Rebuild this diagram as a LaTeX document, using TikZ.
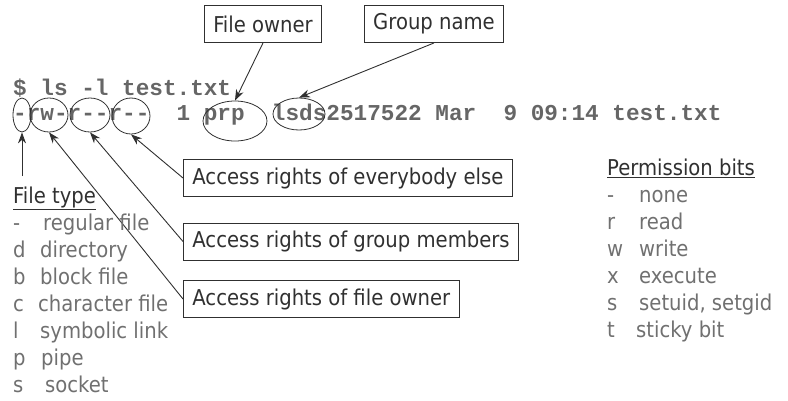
\documentclass[tikz,border=0pt]{standalone}
\usepackage{fontspec}
\setmainfont{DejaVu Sans Condensed}
\setmonofont{Liberation Mono}
\usetikzlibrary{shapes.geometric, arrows.meta}
\definecolor{ink}{HTML}{303030}
\definecolor{listgray}{HTML}{707070}
\definecolor{shellgray}{HTML}{666666}
\tikzset{
  label box/.style={draw=ink, line width=0.9pt, inner xsep=9pt, minimum height=37pt, text=ink, font=\fontsize{21.8}{26}\selectfont},
  oval/.style={ellipse, draw=ink, line width=0.8pt, inner sep=0pt},
  pointer/.style={draw=ink, line width=0.9pt, -{Stealth[length=11pt, width=8pt]}},
  shell/.style={anchor=base west, inner sep=0pt, text=shellgray, font=\ttfamily\bfseries\fontsize{22.7}{26}\selectfont},
  legend/.style={anchor=base west, inner sep=0pt, text=listgray, font=\fontsize{21.8}{26}\selectfont},
  heading/.style={legend, text=ink},
}
\begin{document}
\begin{tikzpicture}[x=1pt, y=-1pt]
\useasboundingbox (0,0) rectangle (788,400);
% shell output
\node[shell] (cmd) at (13,95) {\$ ls -l test.txt};
\node[shell] (out) at (13,120) {-rw-r--r--\ \ 1 prp\ \ lsds2517522 Mar\ \ 9 09:14 test.txt};
% marked fields
\node[oval, minimum width=18pt, minimum height=34pt] (ftype) at (22,115) {};
\node[oval, minimum width=38pt, minimum height=34pt] (uperm) at (49,115) {};
\node[oval, minimum width=40pt, minimum height=34pt] (gperm) at (90,115) {};
\node[oval, minimum width=38pt, minimum height=36pt] (operm) at (131,116) {};
\node[oval, minimum width=64pt, minimum height=40pt] (owner) at (235,121) {};
\node[oval, minimum width=52pt, minimum height=32pt] (group) at (299,114) {};
% callouts
\node[label box] (fowner) at (263,24) {File owner};
\node[label box] (gname) at (434,24) {Group name};
\node[label box, anchor=west] (others) at (183,178) {Access rights of everybody else};
\node[label box, anchor=west] (members) at (183,241.5) {Access rights of group members};
\node[label box, anchor=west] (fileown) at (183,299) {Access rights of file owner};
\draw[pointer] (fowner.south) -- (owner.north);
\draw[pointer] (gname.south) -- (group.north);
\draw[pointer] (others.west) -- (operm.south);
\draw[pointer] (members.west) -- (gperm.south);
\draw[pointer] (fileown.west) -- (uperm.south);
% file type legend
\node[heading] (fthead) at (13,203) {\underline{File type}};
\coordinate (fttail) at (22,176);
\draw[pointer] (fttail) -- (ftype.south);
\foreach \k/\x/\word [count=\i] in {-/43/regular file, d/40/directory, b/40/block file, c/38/character file, l/40/symbolic link, p/41/pipe, s/45/socket} {
  \node[legend] (ftkey\i) at (13,203+27*\i) {\k};
  \node[legend] (ftname\i) at (\x,203+27*\i) {\word};
}
% permission legend
\node[heading] (pbhead) at (607,175) {\underline{Permission bits}};
\foreach \k/\x/\word [count=\i] in {-/639/none, r/639/read, w/639/write, x/639/execute, s/639/{setuid, setgid}, t/636/sticky bit} {
  \node[legend] (pbkey\i) at (607,175+27*\i) {\k};
  \node[legend] (pbname\i) at (\x,175+27*\i) {\word};
}
\end{tikzpicture}
\end{document}
